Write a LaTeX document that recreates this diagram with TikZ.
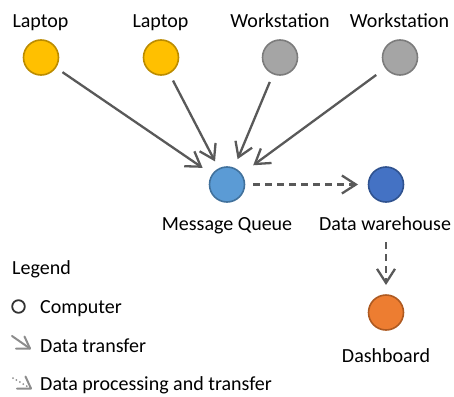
\documentclass[tikz,border=0pt]{standalone}
\usepackage{fontspec}
\setmainfont{Carlito}
\usetikzlibrary{arrows.meta}
\definecolor{lapfill}{HTML}{FFC000}
\definecolor{lapdraw}{HTML}{BC8C00}
\definecolor{wsfill}{HTML}{A5A5A5}
\definecolor{wsdraw}{HTML}{7C7C7C}
\definecolor{mqfill}{HTML}{5B9BD5}
\definecolor{mqdraw}{HTML}{41719C}
\definecolor{dwfill}{HTML}{4472C4}
\definecolor{dwdraw}{HTML}{2F528F}
\definecolor{dbfill}{HTML}{ED7D31}
\definecolor{dbdraw}{HTML}{AE5A21}
\definecolor{arrowgray}{HTML}{595959}
\definecolor{icongray}{HTML}{8C8C8C}
\begin{document}
\begin{tikzpicture}[x=1pt,y=-1pt,
  font=\fontsize{20}{24}\selectfont,
  comp/.style={circle,minimum size=35pt,inner sep=0pt,outer sep=0pt,line width=1.6pt},
  laptop/.style={comp,fill=lapfill,draw=lapdraw},
  wstation/.style={comp,fill=wsfill,draw=wsdraw},
  queue/.style={comp,fill=mqfill,draw=mqdraw},
  warehouse/.style={comp,fill=dwfill,draw=dwdraw},
  dashbd/.style={comp,fill=dbfill,draw=dbdraw},
  lbl/.style={anchor=base,inner sep=0pt},
  legtext/.style={anchor=base west,inner sep=0pt},
  arr/.style={draw=arrowgray,line width=2.3pt,-{Straight Barb[length=14pt,width=18pt]}},
  dasharr/.style={arr,dash pattern=on 7pt off 5pt},
  icon/.style={draw=icongray,line width=2pt,line cap=round,line join=round}]
\useasboundingbox (0,0) rectangle (454,396);

% computers
\node[laptop] (l1) at (41,57.5) {};
\node[laptop] (l2) at (161,57.5) {};
\node[wstation] (w1) at (280,57.5) {};
\node[wstation] (w2) at (400,57.5) {};
\node[queue] (mq) at (227,184.5) {};
\node[warehouse] (dw) at (386,184.5) {};
\node[dashbd] (db) at (386,312.5) {};

% labels
\node[lbl] (l1l) at (40.5,28) {Laptop};
\node[lbl] (l2l) at (160.5,28) {Laptop};
\node[lbl] (w1l) at (280,28) {Workstation};
\node[lbl] (w2l) at (399.5,28) {Workstation};
\node[lbl] (mql) at (227,230) {Message Queue};
\node[lbl] (dwl) at (385,230) {Data warehouse};
\node[lbl] (dbl) at (386,362) {Dashboard};

% connectors
\draw[arr,shorten <=8.5pt,shorten >=12pt] (l1) -- (mq);
\draw[arr,shorten <=8.5pt,shorten >=8.5pt] (l2) -- (mq);
\draw[arr,shorten <=9pt,shorten >=10pt] (w1) -- (mq);
\draw[arr,shorten <=12pt,shorten >=15pt] (w2) -- (mq);
\draw[dasharr,shorten <=8.5pt,shorten >=10.5pt] (mq) -- (dw);
\draw[dasharr,shorten <=12pt,shorten >=10pt] (dwl.base -| db.center) -- (db);

% legend
\node[legtext] (leg) at (12,274) {Legend};
\node[legtext] (legc) at (40,313) {Computer};
\node[legtext] (legt) at (40,352) {Data transfer};
\node[legtext] (legp) at (40,390) {Data processing and transfer};
\draw[draw=black!80,line width=1.8pt] (18.5,306.5) circle (6.3);
\draw[icon] (12,336) -- (30,348.5);
\draw[icon] (16,348.5) -- (30,348.5) -- (24.5,336.5);
\draw[icon,dash pattern=on 0pt off 4pt] (13,378) -- (29,387.5);
\draw[icon] (17,388.5) -- (31,388.5) -- (25.5,376.5);
\end{tikzpicture}
\end{document}
